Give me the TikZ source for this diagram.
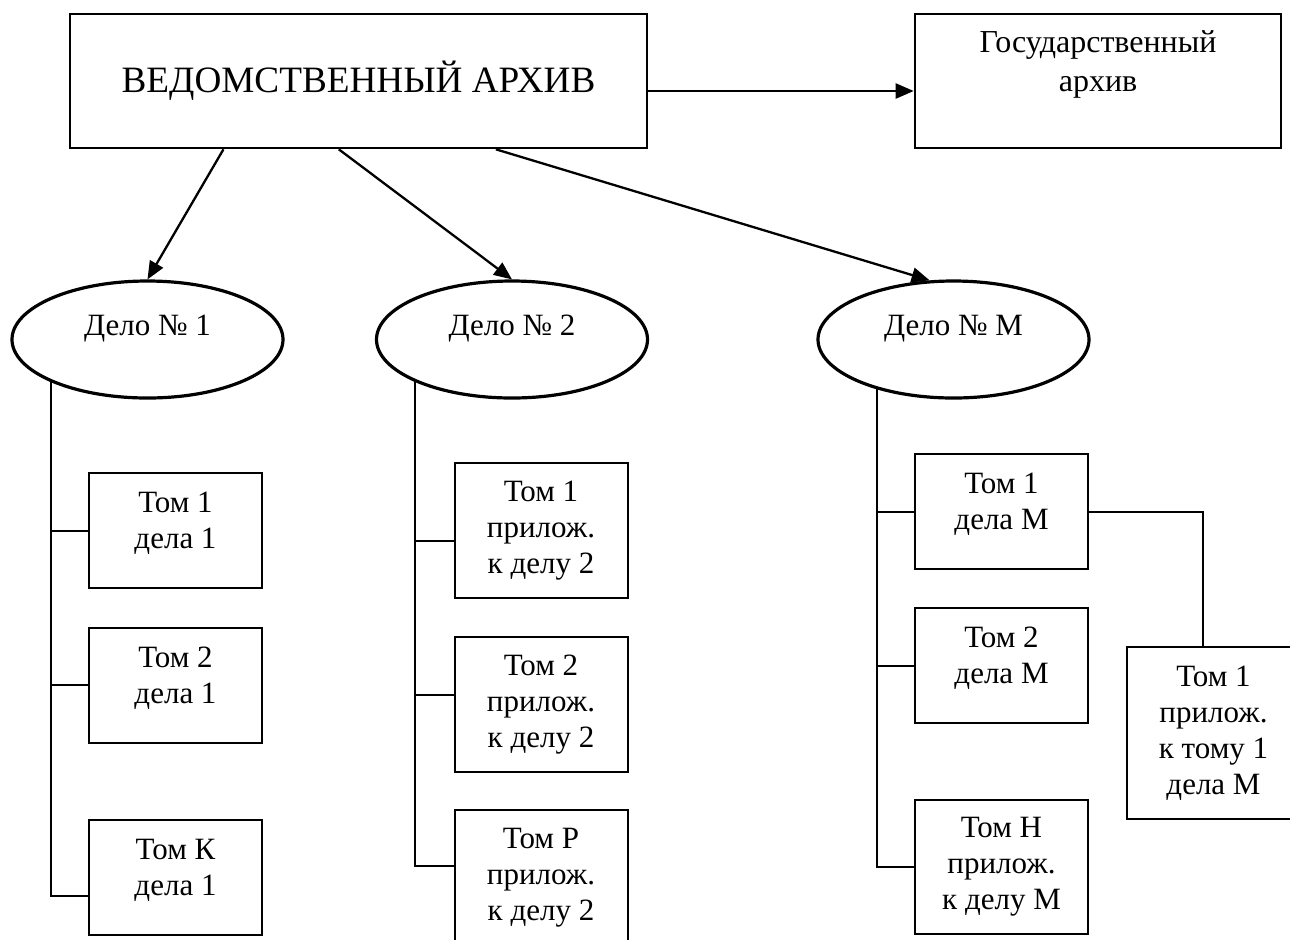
\documentclass[tikz,border=0pt]{standalone}
\usepackage{fontspec}
\setmainfont{Liberation Serif}
\usetikzlibrary{calc,shapes.geometric,arrows.meta}
\newcommand\tomstrut{\rule[-10pt]{0pt}{0pt}}

\begin{document}
\begin{tikzpicture}[
  x=0.5pt,y=-0.5pt,
  archbox/.style={draw,line width=1.3pt,inner sep=0pt,align=center,minimum height=67pt},
  delo/.style={ellipse,draw,line width=1.6pt,inner sep=0pt,minimum width=135.5pt,minimum height=58.5pt,
    text height=10pt,text depth=14.5pt,font=\fontsize{15.5}{18}\selectfont},
  tom/.style={draw,line width=1pt,inner sep=0pt,align=center,minimum width=86.5pt,minimum height=#1,
    font=\fontsize{15.5}{18}\selectfont},
  tom/.default=57.5pt,
  arr/.style={line width=1.15pt,-{Triangle[length=9pt,width=7.5pt]}},
  link/.style={line width=1pt}
  ]
\useasboundingbox (0,0) rectangle (1290,939);
% archives
\node[archbox,minimum width=288.5pt,font=\fontsize{18.6}{22}\selectfont] (arch) at (358.5,81) {ВЕДОМСТВЕННЫЙ АРХИВ};
\node[archbox,minimum width=183pt,font=\fontsize{16}{19.5}\selectfont] (gos) at (1098,81) {Государственный\\архив\\\mbox{}};
% cases
\node[delo] (d1) at (147.5,339.5) {Дело № 1};
\node[delo] (d2) at (512,339.5)   {Дело № 2};
\node[delo] (dM) at (953.5,339.5) {Дело № М};
% volumes
\node[tom] (t11) at (175.5,530.5) {Том 1\\дела 1\tomstrut};
\node[tom] (t12) at (175.5,685)   {Том 2\\дела 1\tomstrut};
\node[tom] (t1k) at (175.5,877)   {Том К\\дела 1\tomstrut};
\node[tom=67.5pt] (t21) at (541,530.5) {Том 1\\прилож.\\к делу 2};
\node[tom=67.5pt] (t22) at (541,704.5) {Том 2\\прилож.\\к делу 2};
\node[tom=67.5pt] (t2p) at (541,877.5) {Том Р\\прилож.\\к делу 2};
\node[tom] (tM1) at (1001.5,511.5) {Том 1\\дела М\tomstrut};
\node[tom] (tM2) at (1001.5,665.5) {Том 2\\дела М\tomstrut};
\node[tom=67pt] (tMn) at (1001.5,867)  {Том Н\\прилож.\\к делу М};
\node[tom=86pt] (tMa) at (1213.5,733)  {Том 1\\прилож.\\к тому 1\\дела М};
\coordinate (rM) at (877,388);
% arrows
\draw[arr] ([yshift=-5pt]arch.east) -- ([yshift=-5pt]gos.west);
\draw[arr] ($(arch.south west)!0.267!(arch.south east)$) -- (d1.north);
\draw[arr] ($(arch.south west)!0.466!(arch.south east)$) -- (d2.north);
\draw[arr] ($(arch.south west)!0.737!(arch.south east)$) -- (dM.112);
% trees
\foreach \t/\s in {t11/0,t12/0,t1k/-9.5}
  \draw[link] (d1.south west) |- ([yshift=\s pt]\t.west);
\foreach \t/\s in {t21/-5.25,t22/4.75,t2p/5.75}
  \draw[link] (d2.south west) |- ([yshift=\s pt]\t.west);
\foreach \t in {tM1,tM2,tMn}
  \draw[link] (rM) |- (\t.west);
\draw[link] (tM1.east) -| ([xshift=-5.25pt]tMa.north);
\end{tikzpicture}
\end{document}
